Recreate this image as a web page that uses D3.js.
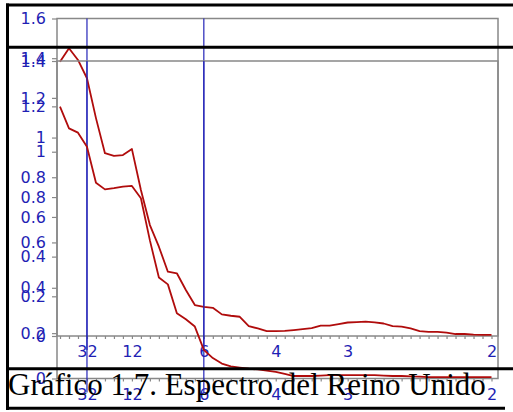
<!DOCTYPE html>
<html>
<head>
<meta charset="utf-8">
<script src="https://cdn.jsdelivr.net/npm/d3@7"></script>
<style>
  body { margin: 0; background: #fff; }
  svg { display: block; }
</style>
</head>
<body>
<svg id="chart"></svg>
<script>
// frecuencias: k/96, k = 0..48 (ciclos por trimestre)
const freqIndex = d3.range(0, 49);

// espectro, panel superior (escala 0 - 1.6)
const spectrumA = [
  1.382, 1.450, 1.391, 1.299, 1.098, 0.921, 0.908, 0.912, 0.942, 0.736,
  0.559, 0.450, 0.324, 0.316, 0.232, 0.156, 0.147, 0.142, 0.109, 0.102,
  0.097, 0.050, 0.038, 0.025, 0.025, 0.026, 0.030, 0.035, 0.040, 0.052,
  0.052, 0.060, 0.068, 0.070, 0.072, 0.069, 0.063, 0.050, 0.047, 0.038,
  0.025, 0.021, 0.021, 0.017, 0.010, 0.010, 0.007, 0.006, 0.006
];

// espectro, panel desplazado (escala 0 - 1.4)
const spectrumB = [
  1.199, 1.103, 1.084, 1.022, 0.863, 0.834, 0.839, 0.846, 0.849, 0.795,
  0.609, 0.445, 0.415, 0.288, 0.261, 0.229, 0.126, 0.090, 0.066, 0.053,
  0.048, 0.043, 0.040, 0.035, 0.029, 0.020, 0.011, 0.011, 0.011, 0.013,
  0.015, 0.015, 0.015, 0.015, 0.015, 0.015, 0.013, 0.011, 0.011, 0.009,
  0.008, 0.006, 0.006, 0.006, 0.006, 0.006, 0.006, 0.006, 0.006
];

// ticks
const yTicksA = [0, 0.2, 0.4, 0.6, 0.8, 1, 1.2, 1.4, 1.6];
const yLabelsA = ["0", "0.2", "0.4", "0.6", "0.8", "1", "1.2", "1.4", "1.6"];
const yTicksB = [0, 0.2, 0.4, 0.6, 0.8, 1, 1.2, 1.4];
const yLabelsB = ["0", "0.2", "0.4", "0.6", "0.8", "1", "1.2", "1.4"];
const periodLabels = [32, 12, 6, 4, 3, 2];   // periodos (trimestres)
const bandPeriods = [32, 6];                 // banda del ciclo económico

const caption = "Gráfico 1.7. Espectro del Reino Unido";

const width = 513, height = 412;
const blue = "#1f1fb4", red = "#b00c0c", grey = "#888";

const svg = d3.select("#chart")
    .attr("width", width)
    .attr("height", height);

const x = d3.scaleLinear()
    .domain([0, 0.5])
    .range([60, 491.5]);

function drawPanel(opts) {
    const y = d3.scaleLinear()
        .domain([0, opts.yMax])
        .range([opts.bottom, opts.top]);

    const g = svg.append("g");

    // marco
    g.append("rect")
        .attr("x", 57).attr("y", opts.top)
        .attr("width", 498 - 57).attr("height", opts.bottom - opts.top)
        .attr("fill", "none")
        .attr("stroke", grey)
        .attr("stroke-width", 1.5);

    // eje Y
    const yAxis = g.append("g")
        .attr("transform", "translate(57,0)")
        .call(d3.axisLeft(y)
            .tickValues(opts.yTicks)
            .tickFormat((d, i) => opts.yLabels[i])
            .tickSize(5)
            .tickPadding(6));
    yAxis.select(".domain").remove();
    yAxis.selectAll("line").attr("stroke", grey).attr("stroke-width", 1.2);
    yAxis.selectAll("text")
        .attr("fill", blue)
        .style("font-family", "DejaVu Sans")
        .style("font-size", "16px");

    // eje X: marcas menores en cada frecuencia
    const xMinor = g.append("g")
        .attr("transform", `translate(0,${opts.bottom})`)
        .call(d3.axisBottom(x)
            .tickValues(freqIndex.map(k => k / 96))
            .tickFormat("")
            .tickSize(3));
    xMinor.select(".domain").remove();
    xMinor.selectAll("line").attr("stroke", grey).attr("stroke-width", 1.2);

    // etiquetas de periodo
    const xAxis = g.append("g")
        .attr("transform", `translate(0,${opts.bottom})`)
        .call(d3.axisBottom(x)
            .tickValues(periodLabels.map(p => 1 / p))
            .tickFormat((d, i) => periodLabels[i])
            .tickSize(0)
            .tickPadding(10));
    xAxis.select(".domain").remove();
    xAxis.selectAll("text")
        .attr("fill", blue)
        .style("font-family", "DejaVu Sans")
        .style("font-size", "16px");

    // banda 32 - 6 trimestres
    g.selectAll(".band")
        .data(bandPeriods)
        .enter()
        .append("line")
        .attr("x1", d => x(1 / d)).attr("x2", d => x(1 / d))
        .attr("y1", opts.top).attr("y2", opts.bottom + 14)
        .attr("stroke", "#2424b8")
        .attr("stroke-width", 1.2);

    // espectro
    const line = d3.line()
        .x((d, i) => x(freqIndex[i] / 96))
        .y(d => y(d));

    g.append("path")
        .datum(opts.values)
        .attr("fill", "none")
        .attr("stroke", red)
        .attr("stroke-width", 1.8)
        .attr("stroke-linejoin", "round")
        .attr("d", line);
}

drawPanel({ top: 18.5, bottom: 336, yMax: 1.6, yTicks: yTicksA, yLabels: yLabelsA, values: spectrumA });
drawPanel({ top: 61, bottom: 378.5, yMax: 1.4, yTicks: yTicksB, yLabels: yLabelsB, values: spectrumB });

// marcos negros
const frameLines = [
    { x1: 6, y1: 5, x2: 513, y2: 5 },
    { x1: 6, y1: 47.2, x2: 513, y2: 47.2 },
    { x1: 6, y1: 368.8, x2: 513, y2: 368.8 },
    { x1: 6, y1: 408.3, x2: 505, y2: 408.3 },
    { x1: 7.5, y1: 3.5, x2: 7.5, y2: 410 }
];
svg.selectAll(".frame")
    .data(frameLines)
    .enter()
    .append("line")
    .attr("x1", d => d.x1).attr("y1", d => d.y1)
    .attr("x2", d => d.x2).attr("y2", d => d.y2)
    .attr("stroke", "#000")
    .attr("stroke-width", 3);

// título
svg.append("text")
    .attr("x", 8)
    .attr("y", 395)
    .style("font-family", "Liberation Serif")
    .style("font-size", "31px")
    .attr("fill", "#000")
    .text(caption);
</script>
</body>
</html>
